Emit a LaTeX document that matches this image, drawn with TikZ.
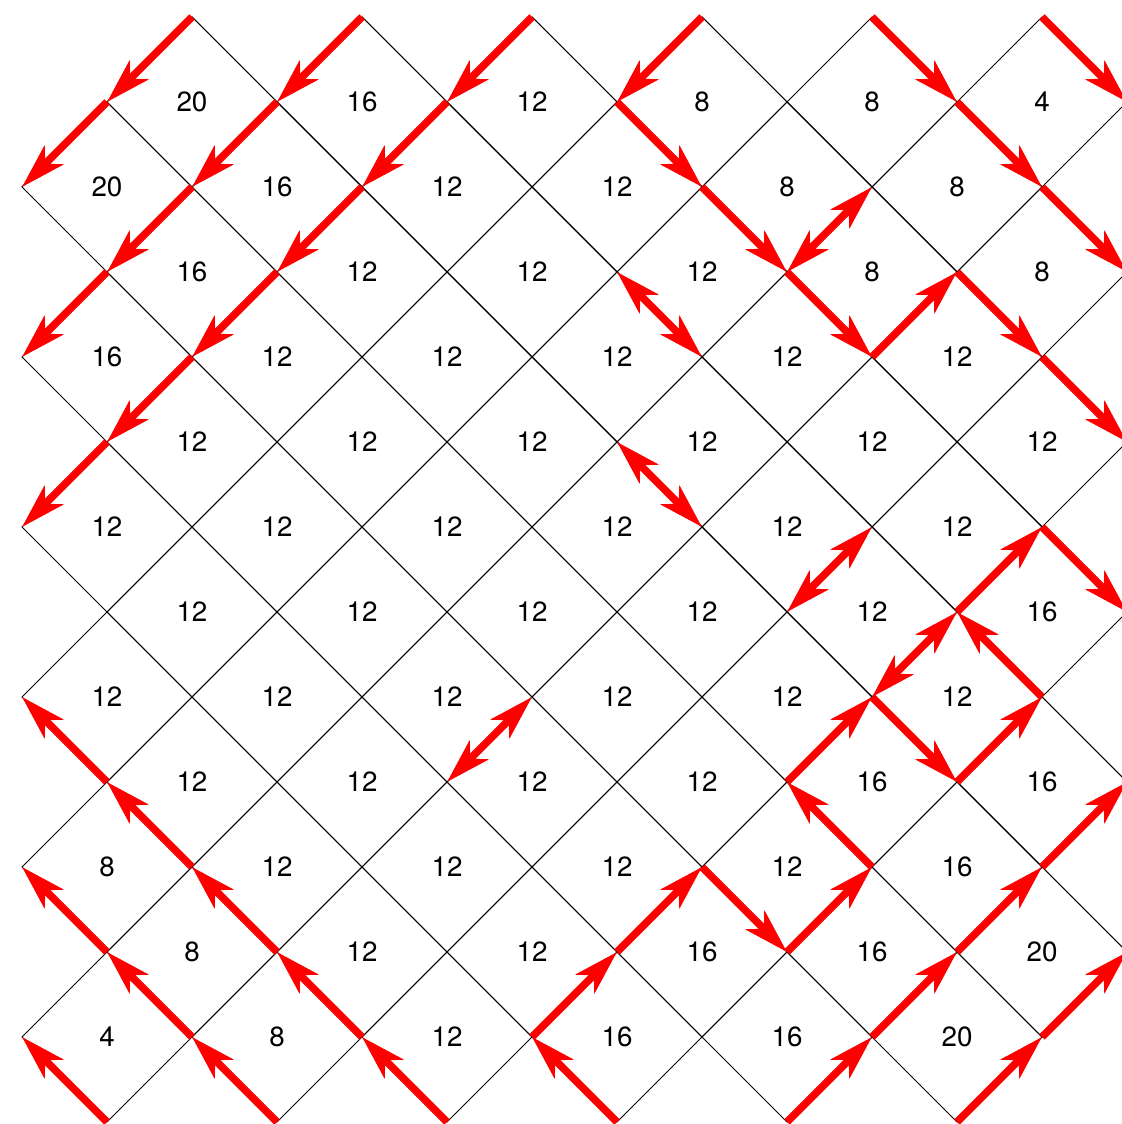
\documentclass[tikz,border=0pt]{standalone}
\usepackage{fontspec}
\setmainfont{TeX Gyre Heros}
\usetikzlibrary{arrows.meta}
\tikzset{
	>={Stealth[length=15pt, width=8.8pt, inset=4pt]},
	lattice/.style={draw=black, line width=0.35pt},
	flow/.style={draw=red, line width=2.5pt, ->},
	twoway/.style={draw=red, line width=2.5pt, <->},
	cell/.style={inner sep=0pt, font=\fontsize{9.3}{11}\selectfont}
}
\begin{document}
\begin{tikzpicture}
	\useasboundingbox (-0.2588,-0.0235) rectangle (12.941,13.2);
	% Vertices of the lattice:
	\foreach \i in {0,...,13} \foreach \j in {0,...,13} \coordinate (v\i-\j) at (\i,13-\j);
	% Cells and their values, row by row:
	\foreach \j/\vals in {1/{20,16,12,8,8,4}, 2/{20,16,12,12,8,8}, 3/{16,12,12,12,8,8}, 4/{16,12,12,12,12,12},
			5/{12,12,12,12,12,12}, 6/{12,12,12,12,12,12}, 7/{12,12,12,12,12,16}, 8/{12,12,12,12,12,12},
			9/{12,12,12,12,16,16}, 10/{8,12,12,12,12,16}, 11/{8,12,12,16,16,20}, 12/{4,8,12,16,16,20}} {
		\foreach \v [count=\k from 0] in \vals {
			\pgfmathtruncatemacro\i{2*\k+1+mod(\j,2)}
			\pgfmathtruncatemacro\il{\i-1}
			\pgfmathtruncatemacro\ir{\i+1}
			\pgfmathtruncatemacro\ju{\j-1}
			\pgfmathtruncatemacro\jd{\j+1}
			\draw[lattice] (v\il-\j) -- (v\i-\ju) -- (v\ir-\j) -- (v\i-\jd) -- cycle;
			\node[cell] (c\i-\j) at (\i,13-\j) {\v};
		}
	}
	% One-way edges:
	\foreach \a/\b in {2-0/1-1, 1-1/0-2,
			4-0/3-1, 3-1/2-2, 2-2/1-3, 1-3/0-4,
			6-0/5-1, 5-1/4-2, 4-2/3-3, 3-3/2-4, 2-4/1-5, 1-5/0-6,
			8-0/7-1, 7-1/8-2, 8-2/9-3, 9-3/10-4, 10-4/11-3, 11-3/12-4, 12-4/13-5,
			10-0/11-1, 11-1/12-2, 12-2/13-3,
			12-0/13-1,
			7-13/6-12, 6-12/7-11, 7-11/8-10, 8-10/9-11, 9-11/10-10, 10-10/9-9, 9-9/10-8,
			10-8/11-9, 11-9/12-8, 12-8/11-7, 11-7/12-6, 12-6/13-7,
			9-13/10-12, 10-12/11-11, 11-11/12-10, 12-10/13-9,
			11-13/12-12, 12-12/13-11,
			1-13/0-12,
			3-13/2-12, 2-12/1-11, 1-11/0-10,
			5-13/4-12, 4-12/3-11, 3-11/2-10, 2-10/1-9, 1-9/0-8}
		\draw[flow] (v\a) -- (v\b);
	% Two-way edges:
	\foreach \a/\b in {9-3/10-2, 7-3/8-4, 7-5/8-6, 9-7/10-6, 5-9/6-8, 10-8/11-7}
		\draw[twoway] (v\a) -- (v\b);
\end{tikzpicture}
\end{document}
